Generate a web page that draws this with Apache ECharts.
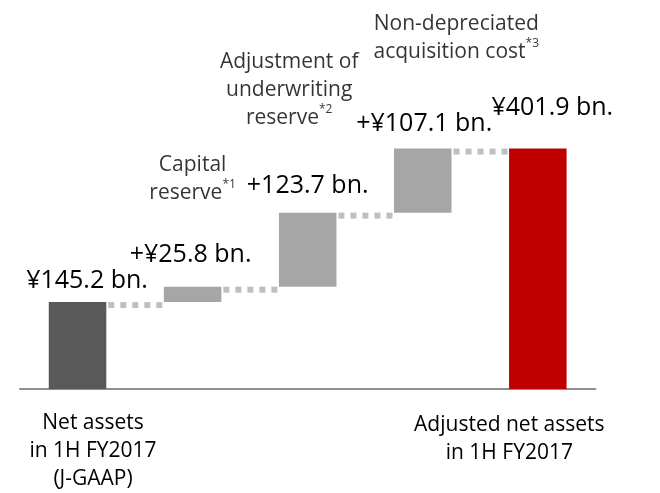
<!DOCTYPE html>
<html>
<head>
<meta charset="utf-8">
<script src="https://cdn.jsdelivr.net/npm/echarts@6/dist/echarts.min.js"></script>
<style>
  html, body { margin: 0; padding: 0; background: #fff; }
</style>
</head>
<body>
<div id="chart" style="width:660px;height:493px;"></div>
<script>
// values (¥ bn.)
const categories = ['Net assets\nin 1H FY2017\n(J-GAAP)', '', '', '', 'Adjusted net assets\nin 1H FY2017'];
const amounts = [145.2, 25.8, 123.7, 107.1, 401.9];
const isTotal = [true, false, false, false, true];
const valueLabels = ['¥145.2 bn.', '+¥25.8 bn.', '+123.7 bn.', '+¥107.1 bn.', '¥401.9 bn.'];
const noteLines = [[], ['Capital', 'reserve'], ['Adjustment of', 'underwriting', 'reserve'], ['Non-depreciated', 'acquisition cost'], []];
const noteMarks = ['', '*1', '*2', '*3', ''];

const FONT = 'Open Sans';
const barColors = ['#595959', '#a6a6a6', '#a6a6a6', '#a6a6a6', '#c00000'];
const valueLabelOffset = [[9.5, -9], [-2, -19], [0, -14.5], [1.5, -12.5], [14.5, -28.5]];
const noteOffset = [[0, 0], [0, -108], [-18.5, -123], [33.5, -110.5]];

// base (invisible) and top of every bar
let running = 0;
const bases = [], tops = [];
amounts.forEach((v, i) => {
  if (isTotal[i]) {
    bases.push(0);
    tops.push(v);
    running = v;
  } else {
    bases.push(running);
    running = +(running + v).toFixed(1);
    tops.push(running);
  }
});

const connectorData = [];
for (let i = 0; i < amounts.length - 1; i++) connectorData.push([i, tops[i]]);

const noteData = [];
noteLines.forEach((lines, i) => {
  if (!lines.length) return;
  const text = lines.map((l, k) => k === lines.length - 1 ? l + '{sup|' + noteMarks[i] + '}' : l).join('\n');
  noteData.push({
    value: [i, tops[i]],
    label: { formatter: text, offset: noteOffset[i] }
  });
});

const chart = echarts.init(document.getElementById('chart'));
chart.setOption({
  animation: false,
  grid: { left: 18, right: 21, top: 0, bottom: 100 },
  xAxis: {
    type: 'category',
    data: categories.map((c, i) => i === 4
      ? { value: c, textStyle: { padding: [2, 57, 0, 0] } }
      : { value: c, textStyle: { padding: [0, 0, 0, 31] } }),
    axisTick: { show: false },
    axisLine: { lineStyle: { color: '#8f8f8f', width: 2 } },
    axisLabel: {
      interval: 0,
      margin: 20,
      color: '#000',
      fontFamily: FONT,
      fontSize: 21,
      lineHeight: 28
    }
  },
  yAxis: { type: 'value', min: 0, max: 650, show: false, splitLine: { show: false } },
  series: [
    {
      type: 'bar',
      stack: 'w',
      barWidth: '50%',
      itemStyle: { color: 'transparent' },
      silent: true,
      data: bases
    },
    {
      type: 'bar',
      stack: 'w',
      barWidth: '50%',
      data: amounts.map((v, i) => ({
        value: v,
        itemStyle: { color: barColors[i] },
        label: { offset: valueLabelOffset[i] }
      })),
      label: {
        show: true,
        position: 'top',
        distance: 0,
        color: '#000',
        fontFamily: FONT,
        fontSize: 25,
        lineHeight: 25,
        formatter: p => valueLabels[p.dataIndex]
      }
    },
    {
      type: 'custom',
      data: connectorData,
      z: 1,
      renderItem: (params, api) => {
        const p = api.coord([api.value(0), api.value(1)]);
        const step = api.size([1, 0])[0];
        const half = step / 4;
        return {
          type: 'line',
          shape: { x1: p[0] + half + 2, y1: p[1] + 3, x2: p[0] + step - half, y2: p[1] + 3 },
          style: { stroke: '#bfbfbf', lineWidth: 6, lineDash: [6, 6] }
        };
      }
    },
    {
      type: 'scatter',
      symbolSize: 0,
      silent: true,
      data: noteData,
      label: {
        show: true,
        position: 'inside',
        color: '#000',
        fontFamily: FONT,
        fontSize: 21,
        lineHeight: 28,
        align: 'center',
        rich: {
          sup: { fontFamily: FONT, fontSize: 12, lineHeight: 25, verticalAlign: 'top', color: '#000' }
        }
      }
    }
  ]
});
</script>
</body>
</html>
